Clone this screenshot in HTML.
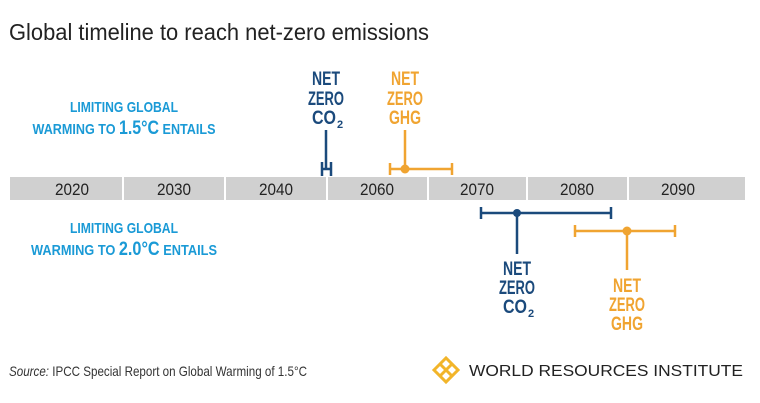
<!DOCTYPE html>
<html><head><meta charset="utf-8"><style>
html,body{margin:0;padding:0;background:#fff;width:760px;height:403px;overflow:hidden}
svg text{font-family:"Liberation Sans",sans-serif}
</style></head><body>
<svg width="760" height="403" viewBox="0 0 760 403" xmlns="http://www.w3.org/2000/svg">
<text x="9" y="40" font-size="23" fill="#222" textLength="420" lengthAdjust="spacingAndGlyphs">Global timeline to reach net-zero emissions</text>
<g fill="#1a9ad6" font-weight="bold" text-anchor="middle">
<text x="124" y="112" font-size="15" textLength="108" lengthAdjust="spacingAndGlyphs">LIMITING GLOBAL</text>
<text x="124" y="134" font-size="15" textLength="183" lengthAdjust="spacingAndGlyphs">WARMING TO <tspan font-size="19">1.5°C</tspan> ENTAILS</text>
<text x="124" y="233" font-size="15" textLength="108" lengthAdjust="spacingAndGlyphs">LIMITING GLOBAL</text>
<text x="124" y="255" font-size="15" textLength="186" lengthAdjust="spacingAndGlyphs">WARMING TO <tspan font-size="19">2.0°C</tspan> ENTAILS</text>
</g>
<rect x="10" y="177" width="735" height="23" fill="#d0d0d0"/>
<g stroke="#fff" stroke-width="2">
<line x1="123" y1="177" x2="123" y2="200"/><line x1="225" y1="177" x2="225" y2="200"/><line x1="327" y1="177" x2="327" y2="200"/><line x1="428" y1="177" x2="428" y2="200"/><line x1="527" y1="177" x2="527" y2="200"/><line x1="628" y1="177" x2="628" y2="200"/>
</g>
<g font-size="17" fill="#222" text-anchor="middle">
<text x="72" y="195" textLength="34" lengthAdjust="spacingAndGlyphs">2020</text><text x="174" y="195" textLength="34" lengthAdjust="spacingAndGlyphs">2030</text><text x="276" y="195" textLength="34" lengthAdjust="spacingAndGlyphs">2040</text><text x="377" y="195" textLength="34" lengthAdjust="spacingAndGlyphs">2060</text><text x="477" y="195" textLength="34" lengthAdjust="spacingAndGlyphs">2070</text><text x="577" y="195" textLength="34" lengthAdjust="spacingAndGlyphs">2080</text><text x="678" y="195" textLength="34" lengthAdjust="spacingAndGlyphs">2090</text>
</g>
<g stroke="#1b4a7c" stroke-width="2.5" fill="none">
<line x1="326" y1="130" x2="326" y2="170"/><line x1="322" y1="169" x2="331" y2="169"/><line x1="322" y1="162" x2="322" y2="176"/><line x1="331" y1="162" x2="331" y2="176"/>
<line x1="481" y1="213" x2="611" y2="213"/><line x1="481" y1="207" x2="481" y2="219"/><line x1="611" y1="207" x2="611" y2="219"/><line x1="517" y1="213" x2="517" y2="254"/>
</g>
<circle cx="517" cy="213" r="4" fill="#1b4a7c"/>
<g stroke="#f0a431" stroke-width="2.5" fill="none">
<line x1="405" y1="130" x2="405" y2="169"/><line x1="390" y1="169" x2="452" y2="169"/><line x1="390" y1="163" x2="390" y2="175"/><line x1="452" y1="163" x2="452" y2="175"/>
<line x1="575" y1="231" x2="675" y2="231"/><line x1="575" y1="225" x2="575" y2="237"/><line x1="675" y1="225" x2="675" y2="237"/><line x1="627" y1="231" x2="627" y2="270"/>
</g>
<circle cx="405" cy="169" r="4.5" fill="#f0a431"/><circle cx="627" cy="231" r="4.5" fill="#f0a431"/>
<g font-weight="bold" font-size="19" text-anchor="middle">
<g fill="#1b4a7c">
<text x="326" y="85" textLength="28" lengthAdjust="spacingAndGlyphs">NET</text><text x="326" y="105" textLength="36" lengthAdjust="spacingAndGlyphs">ZERO</text><text x="324" y="124" textLength="24" lengthAdjust="spacingAndGlyphs">CO</text><text x="340" y="128" font-size="11">2</text>
<text x="517" y="275" textLength="28" lengthAdjust="spacingAndGlyphs">NET</text><text x="517" y="294" textLength="36" lengthAdjust="spacingAndGlyphs">ZERO</text><text x="515" y="313" textLength="24" lengthAdjust="spacingAndGlyphs">CO</text><text x="531" y="317" font-size="11">2</text>
</g>
<g fill="#f0a431">
<text x="405" y="85" textLength="28" lengthAdjust="spacingAndGlyphs">NET</text><text x="405" y="105" textLength="36" lengthAdjust="spacingAndGlyphs">ZERO</text><text x="405" y="124" textLength="32" lengthAdjust="spacingAndGlyphs">GHG</text>
<text x="627" y="292" textLength="28" lengthAdjust="spacingAndGlyphs">NET</text><text x="627" y="311" textLength="36" lengthAdjust="spacingAndGlyphs">ZERO</text><text x="627" y="330" textLength="32" lengthAdjust="spacingAndGlyphs">GHG</text>
</g>
</g>
<text x="9" y="376" font-size="14" fill="#333" textLength="298" lengthAdjust="spacingAndGlyphs"><tspan font-style="italic">Source:</tspan> IPCC Special Report on Global Warming of 1.5°C</text>
<g transform="translate(446,370)" fill="none" stroke="#f2b52a" stroke-width="3">
<path d="M-12 0 L0 -12 L12 0 L0 12 Z"/><path d="M-6 -6 L6 6 M6 -6 L-6 6"/>
</g>
<text x="469" y="376" font-size="16" fill="#222" font-family="Liberation Serif, serif" textLength="274" lengthAdjust="spacingAndGlyphs">WORLD RESOURCES INSTITUTE</text>
</svg>
</body></html>
